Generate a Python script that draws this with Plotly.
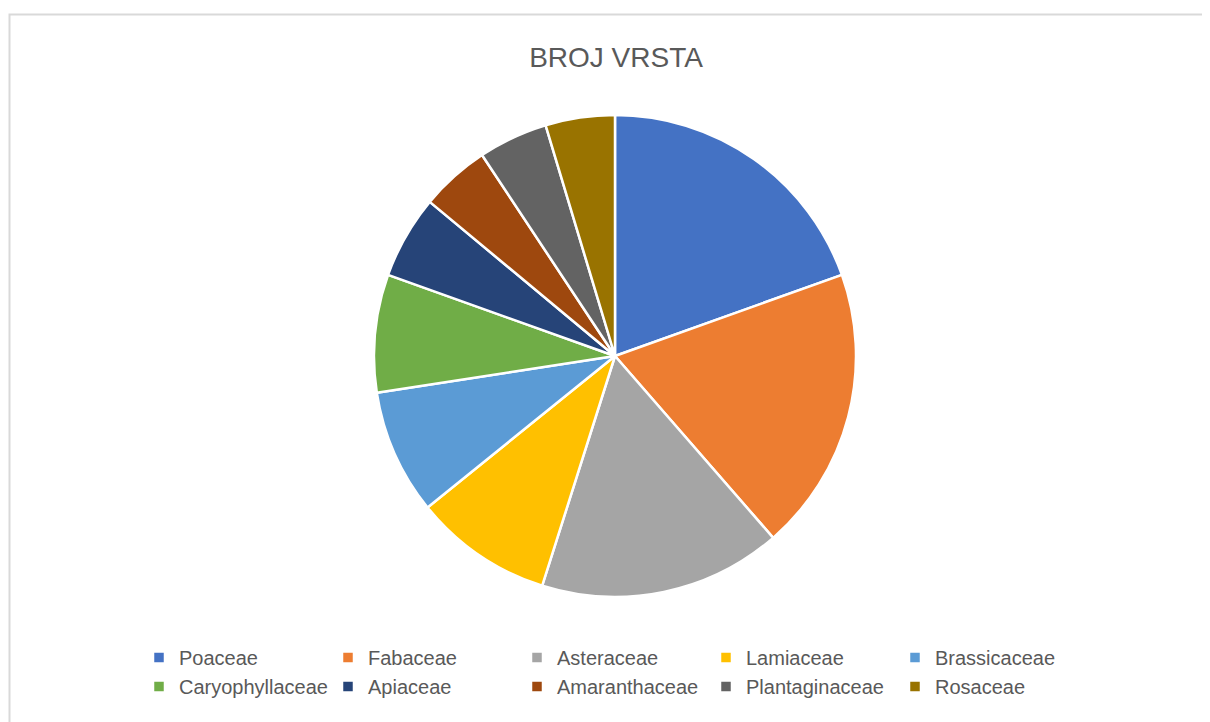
import plotly.graph_objects as go

labels = ["Poaceae", "Fabaceae", "Asteraceae", "Lamiaceae", "Brassicaceae",
          "Caryophyllaceae", "Apiaceae", "Amaranthaceae", "Plantaginaceae", "Rosaceae"]
values = [42, 41, 35, 20, 18, 17, 12, 10, 10, 10]
colors = ["#4472C4", "#ED7D31", "#A5A5A5", "#FFC000", "#5B9BD5",
          "#70AD47", "#264478", "#9E480E", "#636363", "#997300"]
title_text = "BROJ VRSTA"

W, H = 1210, 722
ML, MR = 130, 130
PW = W - ML - MR
OFF = 8  # page body margin offset
FONT = "Liberation Sans, Arial, sans-serif"


def px_x(p):
    return (p - OFF - ML) / PW


def px_y(p):
    return 1 - (p - OFF) / H


fig = go.Figure(go.Pie(
    labels=labels, values=values, sort=False, direction="clockwise", rotation=0,
    marker=dict(colors=colors, line=dict(color="white", width=2.5)),
    textinfo="none", hoverinfo="label+value+percent",
    domain=dict(x=[px_x(615 - 300), px_x(615 + 300)], y=[px_y(597), px_y(115)]),
))

fig.update_layout(
    width=W, height=H,
    margin=dict(l=ML, r=MR, t=0, b=0, autoexpand=False),
    paper_bgcolor="white", plot_bgcolor="white",
    font=dict(family=FONT, color="#595959"),
    title=dict(text=title_text, x=(616 - OFF) / W, xanchor="center",
               y=1 - (57 - OFF) / H, yanchor="middle",
               font=dict(size=28, color="#595959", family=FONT)),
    legend=dict(orientation="h", x=px_x(139), xanchor="left", y=px_y(638), yanchor="top",
                font=dict(size=20, color="#595959", family=FONT),
                entrywidth=144, entrywidthmode="pixels", itemclick=False),
    shapes=[dict(type="rect", xref="paper", yref="paper",
                 x0=px_x(9.5), x1=1.3, y0=-0.2, y1=px_y(14.5),
                 line=dict(color="#D9D9D9", width=2), fillcolor="rgba(0,0,0,0)", layer="below")],
)

fig.write_html("out.html")
